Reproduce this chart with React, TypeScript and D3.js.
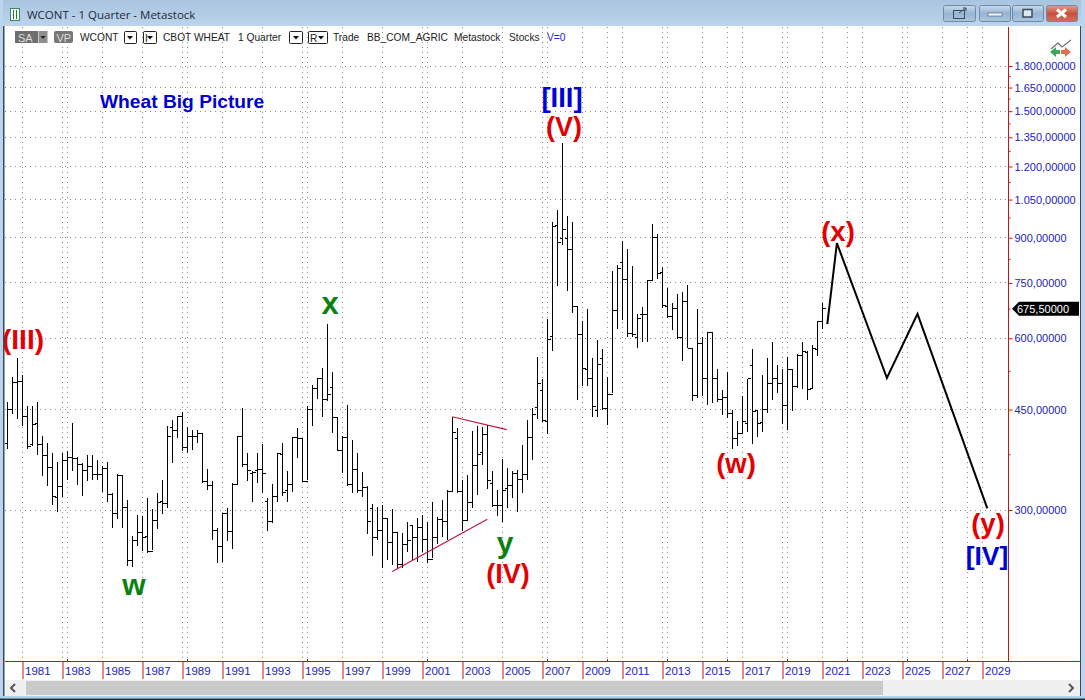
import React, { useEffect, useRef } from 'react';
import * as d3 from 'd3';

// quarterly bars, first one is 1980 Q2
const firstYear = 1980.25;
const opens = [393,450,502,504,437,390,425,390,374,356,316,330,367,371,369,361,352,358,346,346,355,320,296,345,303,245,265,274,270,254,288,310,308,418,414,438,386,403,404,408,337,331,276,259,296,275,332,404,360,348,352,353,311,286,317,376,325,333,402,401,337,450,490,510,468,492,436,381,402,332,353,325,328,302,269,276,290,263,274,241,261,282,268,280,266,246,269,289,286,323,401,323,287,309,359,378,407,334,306,306,327,331,348,339,346,402,453,485,428,605,945,898,898,857,681,610,528,510,449,554,452,479,670,815,761,612,602,659,661,757,902,781,681,655,677,602,695,576,476,588,510,614,510,469,472,443,401,408,425,537,448,427,450,500,509,500,457,528,494,559,566,490,574,643];
const highs = [463,513,554,517,456,456,464,404,393,378,364,378,380,427,372,362,374,374,367,358,364,321,347,344,312,270,294,293,315,301,321,339,421,431,438,446,419,414,415,408,354,337,279,296,303,334,404,452,377,351,377,391,315,333,378,393,351,403,417,401,456,497,512,532,635,523,436,405,458,398,378,350,331,307,304,306,290,301,275,273,286,282,290,294,286,310,292,312,325,437,417,339,346,413,421,419,422,351,325,368,356,351,352,390,432,452,557,509,648,958,1007,1317,983,958,681,642,674,555,596,574,514,787,806,890,859,803,662,681,759,950,914,799,734,693,717,722,744,576,674,602,616,614,530,486,523,450,429,475,510,574,448,517,554,590,539,530,556,530,562,590,570,584,642,691];
const lows = [383,442,433,421,383,388,374,344,331,306,298,316,339,351,332,317,337,339,339,323,310,279,289,279,239,238,259,254,252,255,278,295,303,362,401,380,377,382,393,334,325,266,242,243,265,256,333,357,337,310,335,321,276,285,310,317,310,323,370,336,338,421,470,437,465,410,381,348,331,321,321,316,272,249,266,237,245,240,236,237,253,245,243,253,242,247,262,269,266,323,321,276,288,302,319,360,326,304,293,286,302,315,297,321,339,367,433,428,408,570,741,874,726,663,468,495,495,437,437,449,422,481,623,646,602,604,576,590,590,759,761,677,652,620,598,548,576,465,471,476,458,462,464,440,434,384,389,407,411,391,403,411,443,468,481,425,414,448,490,488,467,488,559,624];
const closes = [450,502,504,437,388,424,390,374,356,317,330,367,371,369,361,352,358,346,346,355,320,296,345,303,245,265,274,268,254,288,309,308,403,414,438,386,403,404,408,337,331,276,259,296,275,332,404,360,352,349,353,347,286,317,377,322,333,402,401,337,450,490,510,468,478,436,381,402,332,353,325,328,286,269,276,290,263,274,241,261,265,268,280,266,246,269,289,286,323,410,323,287,309,359,376,407,338,306,306,325,331,348,339,346,402,441,500,430,596,941,882,929,857,681,610,532,510,456,540,452,479,670,796,761,612,608,650,661,757,902,778,686,655,677,602,695,576,476,588,510,614,510,469,472,443,401,408,428,510,446,425,450,500,509,500,457,528,494,559,568,488,576,642,675.5];

// hand drawn forecast and triangle lines
const forecastYears = [2021.24, 2021.72, 2024.22, 2025.75, 2029.24];
const forecastPrices = [635, 881, 511, 662, 302];
const upperLineYears = [2002.49, 2005.21];
const upperLinePrices = [437, 415];
const lowerLineYears = [1999.49, 2004.24];
const lowerLinePrices = [234, 289];

const priceTicks = [300, 450, 600, 750, 900, 1050, 1200, 1350, 1500, 1650, 1800];
const minorPriceTicks = [375, 525, 675, 825, 975, 1125, 1275, 1425, 1575, 1725];
const yearTicks = d3.range(1981, 2030, 2);
const extraGridYears = [1983.25, 1989.25, 1995.25, 2001.25, 2007.25, 2010.25, 2013.25, 2016.25, 2019.25, 2022.25, 2025.25, 2028.25];
const lastPrice = 675.5;

const formatPrice = (p: number) => {
  const whole = Math.floor(p);
  const grouped = whole >= 1000 ? `${Math.floor(whole / 1000)}.${String(whole % 1000).padStart(3, '0')}` : `${whole}`;
  return `${grouped},${Math.round((p - whole) * 100000).toString().padStart(5, '0')}`;
};

const labels = [
  { text: '(III)', x: 23, y: 349, color: '#e40000', size: 28 },
  { text: 'x', x: 330, y: 314, color: '#0a820f', size: 31 },
  { text: 'w', x: 134, y: 595, color: '#0a820f', size: 30 },
  { text: '[III]', x: 562, y: 107, color: '#0000d8', size: 27.5 },
  { text: '(V)', x: 564, y: 136, color: '#e40000', size: 27 },
  { text: '(x)', x: 838, y: 241, color: '#e40000', size: 27.5 },
  { text: '(w)', x: 736, y: 473, color: '#e40000', size: 27.5 },
  { text: 'y', x: 505, y: 553, color: '#0a820f', size: 30 },
  { text: '(IV)', x: 508, y: 583, color: '#e40000', size: 27 },
  { text: '(y)', x: 988, y: 533, color: '#e40000', size: 27.5 },
  { text: '[IV]', x: 987, y: 565, color: '#0000d8', size: 26.5 },
];

const toolbarTexts = [
  { text: 'WCONT', x: 80 },
  { text: 'CBOT WHEAT', x: 163 },
  { text: '1 Quarter', x: 238 },
  { text: 'Trade', x: 333 },
  { text: 'BB_COM_AGRIC', x: 367 },
  { text: 'Metastock', x: 454 },
  { text: 'Stocks', x: 509 },
];

const sansFont = '"Liberation Sans", Arial, sans-serif';

const App: React.FC = () => {
  const svgRef = useRef<SVGSVGElement>(null);

  useEffect(() => {
    if (!svgRef.current) return;
    const svg = d3.select(svgRef.current);
    svg.selectAll('*').remove();

    const width = 1085;
    const height = 700;
    const plot = { left: 5, right: 1008.5, top: 27, bottom: 661 };
    const axisColor = '#c01818';
    const labelColor = '#2222b8';

    const x = d3.scaleLinear().domain([1981, 2029]).range([22.5, 982.5]);
    const y = d3.scaleLog().domain([300, 1800]).range([510, 66]);

    const defs = svg.append('defs');
    const grad = (id: string, stops: [number, string][]) => {
      const g = defs.append('linearGradient').attr('id', id).attr('x1', 0).attr('y1', 0).attr('x2', 0).attr('y2', 1);
      stops.forEach(([o, c]) => g.append('stop').attr('offset', o).attr('stop-color', c));
    };
    grad('titleBar', [[0, '#a9c4df'], [1, '#bcd4ec']]);
    grad('winBtn', [[0, '#c9dcef'], [0.5, '#97b4d2'], [1, '#a9c6e2']]);
    grad('closeBtn', [[0, '#e0a090'], [0.5, '#c9503a'], [1, '#d27060']]);

    svg.append('rect').attr('width', width).attr('height', height).attr('fill', '#fff');

    // grid
    const grid = svg.append('g').attr('stroke', '#8a8a8a').attr('stroke-dasharray', '1 4').attr('shape-rendering', 'crispEdges');
    grid.selectAll('.h').data(priceTicks).enter().append('line')
      .attr('x1', plot.left).attr('x2', plot.right)
      .attr('y1', d => y(d)).attr('y2', d => y(d));
    grid.selectAll('.v').data([...yearTicks, ...extraGridYears]).enter().append('line')
      .attr('x1', d => x(d)).attr('x2', d => x(d))
      .attr('y1', plot.top).attr('y2', plot.bottom);

    // OHLC bars
    const bars = svg.append('g').attr('stroke', '#000').attr('stroke-width', 1).attr('shape-rendering', 'crispEdges');
    const barYear = (i: number) => firstYear + i * 0.25;
    highs.forEach((h, i) => {
      const bx = Math.round(x(barYear(i)) - 0.2) + 0.5;
      const g = bars.append('g');
      g.append('line').attr('x1', bx).attr('x2', bx).attr('y1', y(h)).attr('y2', y(lows[i]));
      g.append('line').attr('x1', bx - 3).attr('x2', bx).attr('y1', y(opens[i])).attr('y2', y(opens[i]));
      g.append('line').attr('x1', bx).attr('x2', bx + 3).attr('y1', y(closes[i])).attr('y2', y(closes[i]));
    });

    // forecast path
    const line = d3.line<number>().x((_, i) => x(forecastYears[i])).y(d => y(d));
    svg.append('path').attr('d', line(forecastPrices)).attr('fill', 'none').attr('stroke', '#000').attr('stroke-width', 2);

    // triangle lines
    const trend = (years: number[], prices: number[]) =>
      svg.append('line')
        .attr('x1', x(years[0])).attr('y1', y(prices[0]))
        .attr('x2', x(years[1])).attr('y2', y(prices[1]))
        .attr('stroke', '#c4143c').attr('stroke-width', 1.2);
    trend(upperLineYears, upperLinePrices);
    trend(lowerLineYears, lowerLinePrices);

    // wave labels
    svg.selectAll('.wave').data(labels).enter().append('text')
      .attr('x', d => d.x).attr('y', d => d.y)
      .attr('text-anchor', 'middle')
      .attr('font-family', sansFont).attr('font-weight', 700)
      .attr('font-size', d => d.size)
      .attr('fill', d => d.color)
      .text(d => d.text);

    svg.append('text').attr('x', 100).attr('y', 108)
      .attr('font-family', sansFont).attr('font-weight', 700).attr('font-size', 19.2)
      .attr('fill', '#0000d0').text('Wheat Big Picture');

    // price axis
    const yAxis = svg.append('g').attr('transform', `translate(${plot.right},0)`)
      .call(d3.axisRight(y).tickValues(priceTicks).tickFormat(d => formatPrice(+d)).tickSize(4).tickSizeOuter(0));
    yAxis.select('.domain').remove();
    yAxis.selectAll('.tick line').attr('stroke', axisColor);
    yAxis.selectAll('.tick text').attr('x', 6).attr('fill', labelColor).attr('font-size', 11).attr('font-family', sansFont);
    svg.append('g').selectAll('line').data(minorPriceTicks).enter().append('line')
      .attr('x1', plot.right).attr('x2', plot.right + 2)
      .attr('y1', d => y(d)).attr('y2', d => y(d)).attr('stroke', axisColor);
    svg.append('line').attr('x1', plot.right).attr('x2', plot.right).attr('y1', plot.top).attr('y2', plot.bottom)
      .attr('stroke', axisColor).attr('stroke-width', 1);

    // time axis
    const xAxis = svg.append('g').attr('transform', `translate(0,${plot.bottom})`)
      .call(d3.axisBottom(x).tickValues(yearTicks).tickFormat(d3.format('d')).tickSize(18).tickSizeOuter(0));
    xAxis.select('.domain').remove();
    xAxis.selectAll('.tick line').attr('stroke', axisColor);
    xAxis.selectAll('.tick text')
      .attr('y', 6).attr('dy', '0.71em').attr('x', 2).attr('text-anchor', 'start')
      .attr('fill', labelColor).attr('font-size', 11.5).attr('font-family', sansFont);
    svg.append('g').selectAll('line').data(extraGridYears).enter().append('line')
      .attr('x1', d => x(d)).attr('x2', d => x(d))
      .attr('y1', plot.bottom - 2).attr('y2', plot.bottom).attr('stroke', axisColor);
    svg.append('line').attr('x1', plot.left).attr('x2', 1080).attr('y1', plot.bottom + 0.5).attr('y2', plot.bottom + 0.5)
      .attr('stroke', axisColor);

    // last price flag
    const ly = y(lastPrice);
    svg.append('path')
      .attr('d', `M1012,${ly} L1019,${ly - 7} H1079 V${ly + 7} H1019 Z`).attr('fill', '#000');
    svg.append('text').attr('x', 1017).attr('y', ly + 4)
      .attr('font-family', sansFont).attr('font-size', 11).attr('fill', '#fff').text(formatPrice(lastPrice));

    // window frame
    const frame = svg.append('g');
    frame.append('rect').attr('width', width).attr('height', 26).attr('fill', 'url(#titleBar)');
    frame.append('rect').attr('x', 0).attr('y', 0).attr('width', 3).attr('height', height).attr('fill', '#bcd4ec');
    frame.append('rect').attr('x', 3).attr('y', 26).attr('width', 1.5).attr('height', height - 30).attr('fill', '#3c4a58');
    frame.append('rect').attr('x', 1081).attr('y', 0).attr('width', 4).attr('height', height).attr('fill', '#bcd4ec');
    frame.append('rect').attr('x', 1080).attr('y', 26).attr('width', 1).attr('height', height - 30).attr('fill', '#3c4a58');
    frame.append('rect').attr('x', 0).attr('y', 696).attr('width', width).attr('height', 2.5).attr('fill', '#a8d4ec');
    frame.append('rect').attr('x', 0).attr('y', 698.5).attr('width', width).attr('height', 1.5).attr('fill', '#2a2a2a');

    // title
    frame.append('rect').attr('x', 10.5).attr('y', 8.5).attr('width', 9).attr('height', 12).attr('fill', '#f4fbf4').attr('stroke', '#3a8a5a');
    frame.append('path').attr('d', 'M13.5,10V19 M16.5,10V19').attr('stroke', '#2b6b4a');
    frame.append('text').attr('x', 27).attr('y', 19).attr('font-family', '"Open Sans", sans-serif').attr('font-size', 11.5)
      .attr('fill', '#1c2a38').text('WCONT - 1 Quarter - Metastock');

    // title bar buttons
    const winBtns = [
      { x: 943, w: 32, fill: 'url(#winBtn)' },
      { x: 979, w: 31, fill: 'url(#winBtn)' },
      { x: 1012, w: 31, fill: 'url(#winBtn)' },
      { x: 1046, w: 31, fill: 'url(#closeBtn)' },
    ];
    frame.selectAll('.btn').data(winBtns).enter().append('rect')
      .attr('x', d => d.x + 0.5).attr('y', 5.5).attr('width', d => d.w).attr('height', 16).attr('rx', 2)
      .attr('fill', d => d.fill).attr('stroke', '#6f8aa6');
    frame.append('rect').attr('x', 953.5).attr('y', 10.5).attr('width', 11).attr('height', 8).attr('fill', 'none').attr('stroke', '#3c4a58');
    frame.append('path').attr('d', 'M959,13 L966,8 M963,8 H966 V11').attr('fill', 'none').attr('stroke', '#3c4a58');
    frame.append('rect').attr('x', 988).attr('y', 13).attr('width', 14).attr('height', 3).attr('fill', '#eef4fa').attr('stroke', '#46586a').attr('stroke-width', 0.6);
    frame.append('rect').attr('x', 1023).attr('y', 9.5).attr('width', 9).attr('height', 7.5).attr('fill', '#dbe7f2').attr('stroke', '#3c4a58').attr('stroke-width', 1.5);
    frame.append('path').attr('d', 'M1057,9.5 L1066,17 M1066,9.5 L1057,17').attr('stroke', '#fff').attr('stroke-width', 3);

    // toolbar
    const tools = svg.append('g').attr('font-family', sansFont).attr('font-size', 10.2);
    tools.append('rect').attr('x', 15).attr('y', 31).attr('width', 23).attr('height', 12).attr('fill', '#6e6e6e');
    tools.append('rect').attr('x', 38.5).attr('y', 31).attr('width', 9).attr('height', 12).attr('fill', '#8e8e8e');
    tools.append('path').attr('d', 'M40.5,36 h5 l-2.5,3 z').attr('fill', '#222');
    tools.append('rect').attr('x', 54).attr('y', 31).attr('width', 19).attr('height', 12).attr('rx', 2).attr('fill', '#777');
    tools.append('text').attr('x', 18).attr('y', 41.5).attr('fill', '#ddd').attr('font-size', 11).text('SA');
    tools.append('text').attr('x', 56.5).attr('y', 41.5).attr('fill', '#ddd').attr('font-size', 11).text('VP');
    tools.selectAll('.t').data(toolbarTexts).enter().append('text')
      .attr('x', d => d.x).attr('y', 41).attr('fill', '#222').text(d => d.text);
    tools.append('text').attr('x', 547).attr('y', 41).attr('fill', '#2222e0').text('V=0');
    [{ x: 124, w: 12, t: '' }, { x: 143, w: 13, t: 'I' }, { x: 289, w: 13, t: '' }, { x: 308, w: 19, t: 'R' }].forEach(b => {
      tools.append('rect').attr('x', b.x + 0.5).attr('y', 31.5).attr('width', b.w).attr('height', 12).attr('rx', 1).attr('fill', '#fff').attr('stroke', '#222');
      const ax = b.x + b.w - 9;
      tools.append('path').attr('d', `M${ax},36 h6 l-3,3.5 z`).attr('fill', '#111');
      if (b.t) tools.append('text').attr('x', b.x + 2).attr('y', 41.5).attr('fill', '#222').text(b.t);
    });

    // little arrows icon
    const icon = svg.append('g');
    icon.append('path').attr('d', 'M1051,49 L1058,43 L1062,47 L1071,40').attr('fill', 'none').attr('stroke', '#777').attr('stroke-width', 1.3);
    icon.append('path').attr('d', 'M1050,52 L1056,47 V50 H1060 V54 H1056 V57 Z').attr('fill', '#3aa860');
    icon.append('path').attr('d', 'M1071,52 L1065,47 V50 H1061 V54 H1065 V57 Z').attr('fill', '#e07050');

    // scrollbar
    const sb = svg.append('g');
    sb.append('rect').attr('x', 5).attr('y', 680).attr('width', 1075).attr('height', 16).attr('fill', '#f0f0f0');
    sb.append('rect').attr('x', 26).attr('y', 681).attr('width', 857).attr('height', 14).attr('fill', '#c9c9c9');
    sb.append('path').attr('d', 'M15,684 L11,688 L15,692').attr('fill', 'none').attr('stroke', '#555').attr('stroke-width', 2);
    sb.append('path').attr('d', 'M1069,684 L1073,688 L1069,692').attr('fill', 'none').attr('stroke', '#555').attr('stroke-width', 2);
  }, []);

  return <svg ref={svgRef} width={1085} height={700} style={{ position: 'fixed', left: 0, top: 0, display: 'block' }} />;
};

export default App;
